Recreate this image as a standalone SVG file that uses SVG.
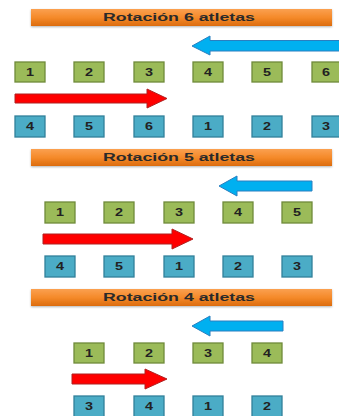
<svg xmlns="http://www.w3.org/2000/svg" width="339" height="416" viewBox="0 0 339 416">
<defs>
<linearGradient id="og" x1="0" y1="0" x2="0" y2="1">
<stop offset="0" stop-color="#fba04f"/>
<stop offset="0.5" stop-color="#f58a2a"/>
<stop offset="1" stop-color="#dc6c0e"/>
</linearGradient>
<filter id="sh" x="-5%" y="-20%" width="110%" height="150%">
<feGaussianBlur in="SourceAlpha" stdDeviation="1"/>
<feOffset dx="0" dy="1" result="b"/>
<feComponentTransfer><feFuncA type="linear" slope="0.3"/></feComponentTransfer>
<feMerge><feMergeNode/><feMergeNode in="SourceGraphic"/></feMerge>
</filter>
</defs>
<style>
.title{fill:url(#og);filter:url(#sh)}
.tt{font-family:"Liberation Sans",Arial,sans-serif;font-weight:bold;font-size:10px;fill:#2a2a2a;text-anchor:middle}
.g{fill:#9bbb59;stroke:#6f8a3a;stroke-width:1.3}
.b{fill:#4bacc6;stroke:#31809a;stroke-width:1.3}
.n{font-family:"Liberation Sans",Arial,sans-serif;font-weight:bold;font-size:10px;fill:#222;text-anchor:middle}
.ba{fill:#00b0f0;stroke:#2a7fc0;stroke-width:1}
.ra{fill:#ff0000;stroke:#b02020;stroke-width:1}
</style>

<g id="title6"><rect class="title" x="31" y="9" width="301" height="17"/><text class="tt" x="179" y="21" textLength="152" lengthAdjust="spacingAndGlyphs">Rotación 6 atletas</text></g>
<g id="title5"><rect class="title" x="31" y="149" width="301" height="17"/><text class="tt" x="179" y="161" textLength="152" lengthAdjust="spacingAndGlyphs">Rotación 5 atletas</text></g>
<g id="title4"><rect class="title" x="31" y="289" width="301" height="17"/><text class="tt" x="179" y="301" textLength="152" lengthAdjust="spacingAndGlyphs">Rotación 4 atletas</text></g>

<g id="connectors">
<polygon class="ba" points="192,46 210,36 210,40.5 340,40.5 340,51 210,51 210,55"/>
<polygon class="ra" points="15,94 147,94 147,89 167,98.5 147,108 147,103 15,103"/>
<polygon class="ba" points="219,186 237,176 237,181 312,181 312,191 237,191 237,196"/>
<polygon class="ra" points="43,234 172,234 172,229 193,239 172,249 172,244 43,244"/>
<polygon class="ba" points="192,326 210,316 210,321 283,321 283,331 210,331 210,336"/>
<polygon class="ra" points="72,374 145,374 145,369 167,379 145,389 145,384 72,384"/>
</g>

<g id="s6g1"><rect class="g" x="15" y="62" width="30" height="20"/><text class="n" x="30" y="75.5" textLength="8" lengthAdjust="spacingAndGlyphs">1</text></g>
<g id="s6g2"><rect class="g" x="74" y="62" width="30" height="20"/><text class="n" x="89" y="75.5" textLength="8" lengthAdjust="spacingAndGlyphs">2</text></g>
<g id="s6g3"><rect class="g" x="134" y="62" width="30" height="20"/><text class="n" x="149" y="75.5" textLength="8" lengthAdjust="spacingAndGlyphs">3</text></g>
<g id="s6g4"><rect class="g" x="193" y="62" width="30" height="20"/><text class="n" x="208" y="75.5" textLength="8" lengthAdjust="spacingAndGlyphs">4</text></g>
<g id="s6g5"><rect class="g" x="252" y="62" width="30" height="20"/><text class="n" x="267" y="75.5" textLength="8" lengthAdjust="spacingAndGlyphs">5</text></g>
<g id="s6g6"><rect class="g" x="312" y="62" width="30" height="20"/><text class="n" x="326" y="75.5" textLength="8" lengthAdjust="spacingAndGlyphs">6</text></g>

<g id="s6b1"><rect class="b" x="15" y="116" width="30" height="21"/><text class="n" x="30" y="129.5" textLength="8" lengthAdjust="spacingAndGlyphs">4</text></g>
<g id="s6b2"><rect class="b" x="74" y="116" width="30" height="21"/><text class="n" x="89" y="129.5" textLength="8" lengthAdjust="spacingAndGlyphs">5</text></g>
<g id="s6b3"><rect class="b" x="134" y="116" width="30" height="21"/><text class="n" x="149" y="129.5" textLength="8" lengthAdjust="spacingAndGlyphs">6</text></g>
<g id="s6b4"><rect class="b" x="193" y="116" width="30" height="21"/><text class="n" x="208" y="129.5" textLength="8" lengthAdjust="spacingAndGlyphs">1</text></g>
<g id="s6b5"><rect class="b" x="252" y="116" width="30" height="21"/><text class="n" x="267" y="129.5" textLength="8" lengthAdjust="spacingAndGlyphs">2</text></g>
<g id="s6b6"><rect class="b" x="312" y="116" width="30" height="21"/><text class="n" x="326" y="129.5" textLength="8" lengthAdjust="spacingAndGlyphs">3</text></g>

<g id="s5g1"><rect class="g" x="45" y="202" width="30" height="21"/><text class="n" x="60" y="215.5" textLength="8" lengthAdjust="spacingAndGlyphs">1</text></g>
<g id="s5g2"><rect class="g" x="104" y="202" width="30" height="21"/><text class="n" x="119" y="215.5" textLength="8" lengthAdjust="spacingAndGlyphs">2</text></g>
<g id="s5g3"><rect class="g" x="164" y="202" width="30" height="21"/><text class="n" x="179" y="215.5" textLength="8" lengthAdjust="spacingAndGlyphs">3</text></g>
<g id="s5g4"><rect class="g" x="223" y="202" width="30" height="21"/><text class="n" x="238" y="215.5" textLength="8" lengthAdjust="spacingAndGlyphs">4</text></g>
<g id="s5g5"><rect class="g" x="282" y="202" width="30" height="21"/><text class="n" x="297" y="215.5" textLength="8" lengthAdjust="spacingAndGlyphs">5</text></g>

<g id="s5b1"><rect class="b" x="45" y="256" width="30" height="21"/><text class="n" x="60" y="269.5" textLength="8" lengthAdjust="spacingAndGlyphs">4</text></g>
<g id="s5b2"><rect class="b" x="104" y="256" width="30" height="21"/><text class="n" x="119" y="269.5" textLength="8" lengthAdjust="spacingAndGlyphs">5</text></g>
<g id="s5b3"><rect class="b" x="164" y="256" width="30" height="21"/><text class="n" x="179" y="269.5" textLength="8" lengthAdjust="spacingAndGlyphs">1</text></g>
<g id="s5b4"><rect class="b" x="223" y="256" width="30" height="21"/><text class="n" x="238" y="269.5" textLength="8" lengthAdjust="spacingAndGlyphs">2</text></g>
<g id="s5b5"><rect class="b" x="282" y="256" width="30" height="21"/><text class="n" x="297" y="269.5" textLength="8" lengthAdjust="spacingAndGlyphs">3</text></g>

<g id="s4g1"><rect class="g" x="74" y="343" width="30" height="20"/><text class="n" x="89" y="356.5" textLength="8" lengthAdjust="spacingAndGlyphs">1</text></g>
<g id="s4g2"><rect class="g" x="134" y="343" width="30" height="20"/><text class="n" x="149" y="356.5" textLength="8" lengthAdjust="spacingAndGlyphs">2</text></g>
<g id="s4g3"><rect class="g" x="193" y="343" width="30" height="20"/><text class="n" x="208" y="356.5" textLength="8" lengthAdjust="spacingAndGlyphs">3</text></g>
<g id="s4g4"><rect class="g" x="252" y="343" width="30" height="20"/><text class="n" x="267" y="356.5" textLength="8" lengthAdjust="spacingAndGlyphs">4</text></g>

<g id="s4b1"><rect class="b" x="74" y="396" width="30" height="21"/><text class="n" x="89" y="409.5" textLength="8" lengthAdjust="spacingAndGlyphs">3</text></g>
<g id="s4b2"><rect class="b" x="134" y="396" width="30" height="21"/><text class="n" x="149" y="409.5" textLength="8" lengthAdjust="spacingAndGlyphs">4</text></g>
<g id="s4b3"><rect class="b" x="193" y="396" width="30" height="21"/><text class="n" x="208" y="409.5" textLength="8" lengthAdjust="spacingAndGlyphs">1</text></g>
<g id="s4b4"><rect class="b" x="252" y="396" width="30" height="21"/><text class="n" x="267" y="409.5" textLength="8" lengthAdjust="spacingAndGlyphs">2</text></g>
</svg>
